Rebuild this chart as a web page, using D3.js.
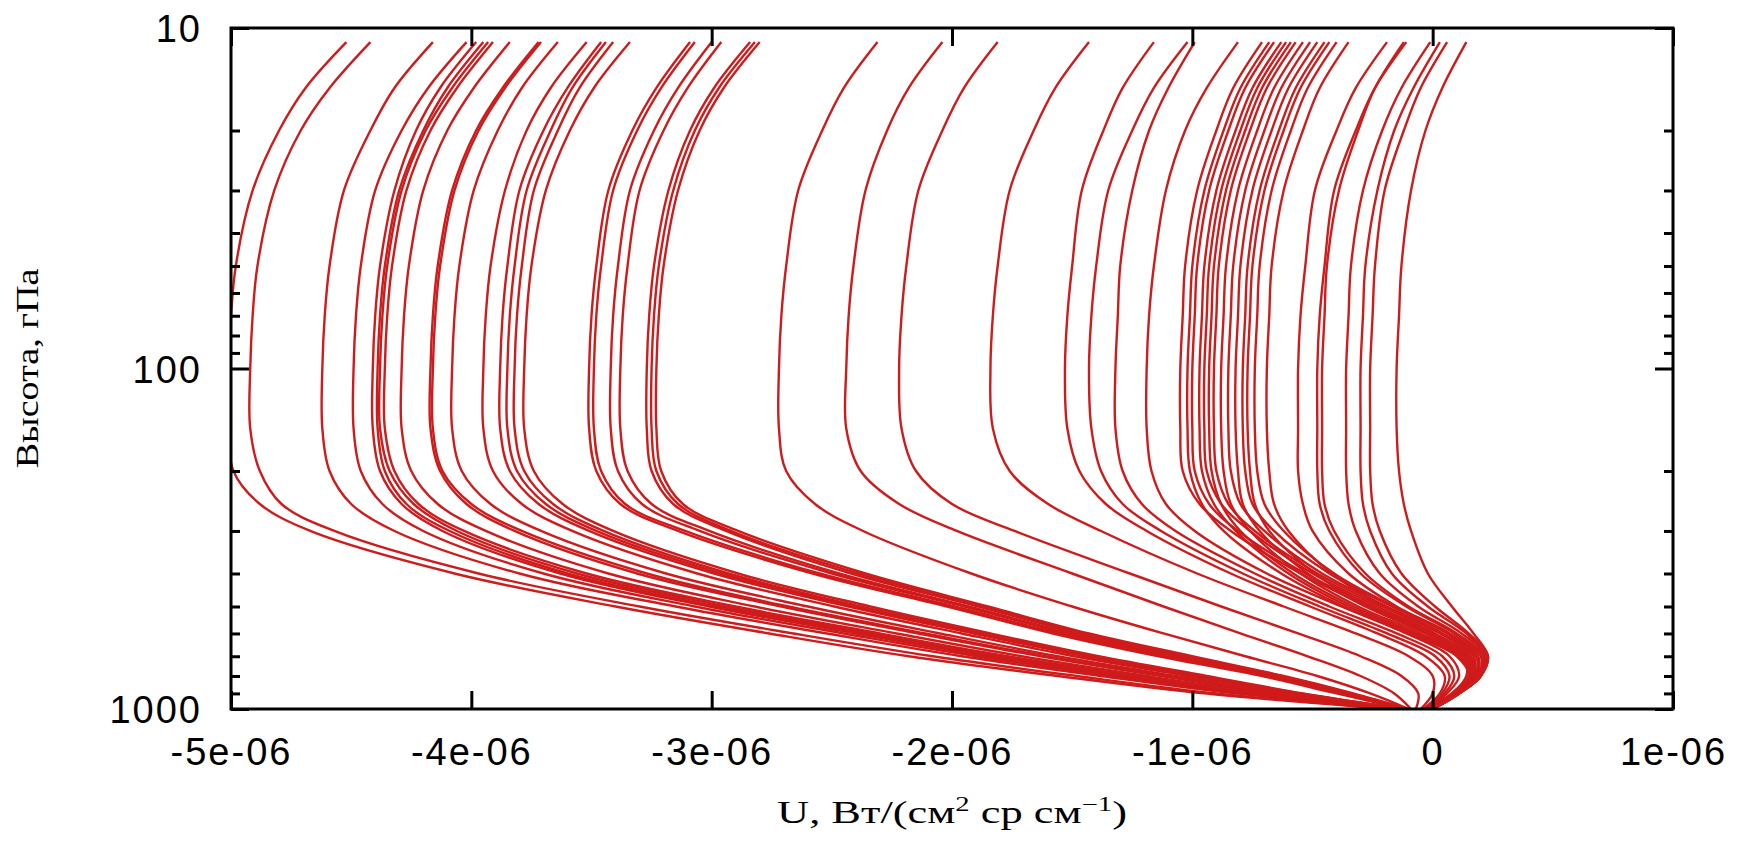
<!DOCTYPE html>
<html>
<head>
<meta charset="utf-8">
<script src="https://cdn.jsdelivr.net/npm/d3@7"></script>
<style>
  body { margin: 0; background: #fff; }
  svg { display: block; background: #fff; }
  .tick-label { font-family: "Liberation Sans", Arial, sans-serif; font-size: 38px; letter-spacing: 2px; fill: #000; }
  .axis-title { font-family: "Liberation Serif", "DejaVu Serif", serif; font-size: 31px; fill: #000; }
</style>
</head>
<body>
<div id="chart"></div>
<script>
// pressure levels, hPa
const pressureLevels = [11, 15, 20, 30, 50, 70, 100, 150, 200, 250, 300, 400, 500, 600, 700, 800, 900, 1000];

// U values in units of 1e-6 W/(cm2 sr cm-1), one row per profile
const leftBundle = [
  [-4.52, -4.69, -4.80, -4.91, -4.98, -5.00, -5.01, -5.01, -4.99, -4.88, -4.67, -4.07, -3.40, -2.76, -2.18, -1.56, -0.95, -0.17],
  [-4.42, -4.59, -4.71, -4.82, -4.89, -4.91, -4.92, -4.92, -4.88, -4.79, -4.57, -3.97, -3.30, -2.66, -2.08, -1.48, -0.90, -0.16],
  [-4.16, -4.32, -4.42, -4.53, -4.59, -4.61, -4.62, -4.62, -4.59, -4.50, -4.32, -3.80, -3.15, -2.52, -1.96, -1.38, -0.82, -0.15],
  [-4.02, -4.18, -4.29, -4.40, -4.46, -4.48, -4.49, -4.49, -4.46, -4.37, -4.20, -3.70, -3.07, -2.45, -1.90, -1.33, -0.78, -0.15],
  [-3.98, -4.13, -4.23, -4.32, -4.38, -4.40, -4.41, -4.41, -4.38, -4.29, -4.12, -3.63, -3.01, -2.40, -1.86, -1.30, -0.76, -0.14],
  [-3.95, -4.10, -4.20, -4.30, -4.36, -4.38, -4.39, -4.39, -4.36, -4.27, -4.09, -3.60, -2.98, -2.37, -1.83, -1.28, -0.75, -0.14],
  [-3.93, -4.08, -4.19, -4.29, -4.35, -4.37, -4.38, -4.38, -4.34, -4.24, -4.06, -3.56, -2.94, -2.34, -1.80, -1.26, -0.73, -0.14],
  [-3.91, -4.06, -4.17, -4.27, -4.33, -4.35, -4.36, -4.36, -4.32, -4.22, -4.03, -3.52, -2.90, -2.30, -1.77, -1.23, -0.72, -0.14],
  [-3.84, -3.99, -4.10, -4.20, -4.26, -4.28, -4.29, -4.29, -4.25, -4.14, -3.94, -3.43, -2.82, -2.23, -1.71, -1.19, -0.69, -0.14],
  [-3.72, -3.87, -3.98, -4.08, -4.14, -4.16, -4.17, -4.17, -4.13, -4.02, -3.82, -3.31, -2.71, -2.14, -1.63, -1.13, -0.65, -0.13],
  [-3.71, -3.86, -3.97, -4.07, -4.13, -4.15, -4.16, -4.16, -4.12, -4.00, -3.79, -3.27, -2.68, -2.11, -1.61, -1.11, -0.64, -0.13],
  [-3.64, -3.79, -3.89, -3.99, -4.05, -4.07, -4.08, -4.08, -4.04, -3.92, -3.71, -3.19, -2.60, -2.05, -1.56, -1.07, -0.62, -0.13],
  [-3.52, -3.67, -3.77, -3.86, -3.92, -3.94, -3.95, -3.95, -3.91, -3.79, -3.58, -3.06, -2.49, -1.96, -1.49, -1.02, -0.59, -0.12],
  [-3.46, -3.60, -3.70, -3.80, -3.85, -3.87, -3.88, -3.88, -3.84, -3.72, -3.51, -2.99, -2.43, -1.91, -1.45, -0.99, -0.57, -0.12],
  [-3.44, -3.58, -3.67, -3.77, -3.82, -3.84, -3.85, -3.85, -3.81, -3.69, -3.48, -2.96, -2.40, -1.89, -1.43, -0.97, -0.56, -0.12],
  [-3.41, -3.55, -3.64, -3.74, -3.79, -3.81, -3.82, -3.82, -3.78, -3.66, -3.45, -2.93, -2.38, -1.87, -1.41, -0.96, -0.55, -0.12],
  [-3.34, -3.49, -3.59, -3.69, -3.75, -3.77, -3.78, -3.78, -3.74, -3.62, -3.41, -2.89, -2.34, -1.84, -1.39, -0.94, -0.54, -0.12],
  [-3.09, -3.23, -3.33, -3.43, -3.48, -3.50, -3.51, -3.51, -3.48, -3.38, -3.14, -2.58, -2.02, -1.58, -1.14, -0.71, -0.40, -0.12],
  [-3.07, -3.21, -3.31, -3.41, -3.46, -3.48, -3.49, -3.49, -3.46, -3.36, -3.11, -2.55, -1.99, -1.55, -1.11, -0.69, -0.38, -0.12],
  [-3.00, -3.14, -3.24, -3.34, -3.39, -3.41, -3.42, -3.42, -3.39, -3.29, -3.05, -2.50, -1.95, -1.52, -1.08, -0.67, -0.37, -0.11],
  [-2.96, -3.10, -3.20, -3.30, -3.35, -3.37, -3.38, -3.38, -3.35, -3.25, -3.01, -2.47, -1.93, -1.50, -1.06, -0.66, -0.36, -0.11],
  [-2.84, -2.99, -3.09, -3.18, -3.24, -3.26, -3.27, -3.27, -3.25, -3.16, -2.94, -2.42, -1.89, -1.47, -1.04, -0.64, -0.35, -0.11],
  [-2.82, -2.97, -3.07, -3.16, -3.22, -3.24, -3.25, -3.25, -3.23, -3.14, -2.92, -2.39, -1.87, -1.45, -1.02, -0.63, -0.34, -0.11],
  [-2.80, -2.95, -3.05, -3.14, -3.20, -3.22, -3.23, -3.23, -3.21, -3.12, -2.89, -2.36, -1.85, -1.43, -1.00, -0.62, -0.33, -0.10],
  [-2.31, -2.45, -2.54, -2.64, -2.69, -2.71, -2.72, -2.72, -2.69, -2.57, -2.37, -1.92, -1.50, -1.12, -0.78, -0.48, -0.26, -0.10],
  [-2.04, -2.18, -2.27, -2.36, -2.41, -2.43, -2.44, -2.44, -2.38, -2.22, -1.98, -1.50, -1.12, -0.80, -0.52, -0.30, -0.16, -0.09],
  [-1.81, -1.95, -2.04, -2.14, -2.19, -2.21, -2.22, -2.21, -2.15, -2.00, -1.74, -1.26, -0.88, -0.56, -0.30, -0.13, -0.06, -0.07]
];

const rightBundle = [
  [-1.43, -1.57, -1.66, -1.76, -1.81, -1.83, -1.84, -1.83, -1.76, -1.60, -1.38, -0.98, -0.62, -0.32, -0.10, 0.00, 0.00, -0.05],
  [-1.16, -1.29, -1.37, -1.46, -1.50, -1.52, -1.53, -1.52, -1.47, -1.36, -1.19, -0.84, -0.51, -0.23, -0.03, 0.05, 0.03, -0.04],
  [-1.02, -1.16, -1.25, -1.35, -1.40, -1.42, -1.43, -1.42, -1.38, -1.29, -1.13, -0.79, -0.47, -0.19, 0.01, 0.07, 0.04, -0.03],
  [-0.99, -1.10, -1.18, -1.25, -1.30, -1.31, -1.32, -1.32, -1.29, -1.21, -1.07, -0.74, -0.43, -0.15, 0.04, 0.09, 0.05, -0.03],
  [-0.81, -0.94, -1.03, -1.11, -1.16, -1.18, -1.19, -1.19, -1.17, -1.11, -0.99, -0.69, -0.38, -0.11, 0.07, 0.11, 0.06, -0.02],
  [-0.71, -0.83, -0.90, -0.98, -1.03, -1.04, -1.05, -1.05, -1.04, -0.97, -0.84, -0.55, -0.27, -0.02, 0.13, 0.14, 0.08, -0.02],
  [-0.68, -0.80, -0.87, -0.95, -1.00, -1.01, -1.02, -1.02, -1.01, -0.96, -0.87, -0.63, -0.37, -0.10, 0.10, 0.15, 0.09, -0.02],
  [-0.66, -0.78, -0.85, -0.93, -0.98, -0.99, -1.00, -1.00, -0.99, -0.93, -0.81, -0.53, -0.25, 0.00, 0.14, 0.15, 0.08, -0.02],
  [-0.63, -0.75, -0.82, -0.90, -0.95, -0.96, -0.97, -0.97, -0.96, -0.91, -0.82, -0.60, -0.35, -0.08, 0.11, 0.16, 0.09, -0.02],
  [-0.61, -0.73, -0.80, -0.88, -0.93, -0.94, -0.95, -0.95, -0.94, -0.88, -0.76, -0.50, -0.23, 0.01, 0.15, 0.16, 0.09, -0.01],
  [-0.59, -0.71, -0.78, -0.86, -0.91, -0.92, -0.93, -0.93, -0.92, -0.88, -0.80, -0.58, -0.33, -0.07, 0.12, 0.16, 0.09, -0.01],
  [-0.57, -0.69, -0.76, -0.84, -0.89, -0.90, -0.91, -0.91, -0.90, -0.85, -0.74, -0.48, -0.21, 0.03, 0.16, 0.17, 0.09, -0.01],
  [-0.54, -0.66, -0.73, -0.81, -0.86, -0.87, -0.88, -0.88, -0.87, -0.84, -0.76, -0.55, -0.31, -0.05, 0.13, 0.17, 0.10, -0.01],
  [-0.51, -0.63, -0.70, -0.78, -0.83, -0.84, -0.85, -0.85, -0.84, -0.80, -0.70, -0.46, -0.19, 0.04, 0.17, 0.17, 0.10, -0.01],
  [-0.48, -0.60, -0.67, -0.75, -0.80, -0.81, -0.82, -0.82, -0.81, -0.79, -0.72, -0.52, -0.28, -0.03, 0.14, 0.18, 0.10, -0.01],
  [-0.45, -0.57, -0.64, -0.72, -0.77, -0.78, -0.79, -0.79, -0.78, -0.75, -0.66, -0.43, -0.17, 0.06, 0.18, 0.18, 0.10, -0.01],
  [-0.43, -0.55, -0.62, -0.70, -0.75, -0.76, -0.77, -0.77, -0.76, -0.74, -0.68, -0.49, -0.26, -0.01, 0.15, 0.18, 0.10, -0.01],
  [-0.40, -0.52, -0.59, -0.67, -0.72, -0.73, -0.74, -0.74, -0.73, -0.70, -0.62, -0.41, -0.16, 0.07, 0.19, 0.18, 0.10, -0.01],
  [-0.35, -0.47, -0.54, -0.62, -0.67, -0.68, -0.69, -0.69, -0.68, -0.66, -0.60, -0.42, -0.20, 0.04, 0.18, 0.19, 0.10, 0.00],
  [-0.19, -0.32, -0.40, -0.49, -0.53, -0.55, -0.56, -0.56, -0.56, -0.54, -0.50, -0.35, -0.15, 0.07, 0.20, 0.19, 0.11, 0.00],
  [-0.11, -0.24, -0.32, -0.41, -0.45, -0.47, -0.48, -0.48, -0.48, -0.47, -0.43, -0.30, -0.11, 0.09, 0.21, 0.19, 0.11, 0.00],
  [-0.12, -0.24, -0.31, -0.39, -0.44, -0.45, -0.46, -0.46, -0.46, -0.45, -0.41, -0.28, -0.10, 0.10, 0.21, 0.20, 0.11, 0.00],
  [-0.01, -0.13, -0.21, -0.29, -0.34, -0.35, -0.36, -0.36, -0.36, -0.35, -0.32, -0.22, -0.06, 0.12, 0.22, 0.20, 0.11, 0.00],
  [0.03, -0.08, -0.16, -0.23, -0.28, -0.29, -0.30, -0.30, -0.30, -0.29, -0.26, -0.17, -0.02, 0.14, 0.22, 0.20, 0.11, 0.00],
  [0.06, -0.05, -0.12, -0.20, -0.24, -0.25, -0.26, -0.26, -0.26, -0.25, -0.22, -0.13, 0.01, 0.15, 0.23, 0.20, 0.11, -0.01],
  [0.14, 0.04, -0.03, -0.09, -0.13, -0.14, -0.15, -0.15, -0.14, -0.12, -0.09, -0.02, 0.08, 0.17, 0.23, 0.20, 0.11, -0.01]
];
const unit = 1e-6;

const xTicks = [-5e-6, -4e-6, -3e-6, -2e-6, -1e-6, 0, 1e-6];
const xTickLabels = ["-5e-06", "-4e-06", "-3e-06", "-2e-06", "-1e-06", "0", "1e-06"];
const yTicks = [10, 100, 1000];
const yTickLabels = ["10", "100", "1000"];
const yMinorTicks = [20, 30, 40, 50, 60, 70, 80, 90, 200, 300, 400, 500, 600, 700, 800, 900];

const width = 1752, height = 842;
const margin = {top: 28, right: 79, bottom: 133, left: 231};
const lineColor = "#cf1b1b";

const svg = d3.select("#chart").append("svg")
  .attr("width", width)
  .attr("height", height);

const x = d3.scaleLinear().domain([-5e-6, 1e-6]).range([margin.left, width - margin.right]);
const y = d3.scaleLog().domain([10, 1000]).range([margin.top, height - margin.bottom]);

// profiles
const profiles = leftBundle.concat(rightBundle)
  .map(row => row.map((u, i) => ({p: pressureLevels[i], u: u * unit})));

svg.append("clipPath").attr("id", "plot-clip")
  .append("rect")
  .attr("x", x.range()[0]).attr("y", y.range()[0])
  .attr("width", x.range()[1] - x.range()[0])
  .attr("height", y.range()[1] - y.range()[0]);

const line = d3.line()
  .x(d => x(d.u))
  .y(d => y(d.p))
  .curve(d3.curveCatmullRom.alpha(0.5));

svg.append("g")
  .attr("clip-path", "url(#plot-clip)")
  .selectAll("path")
  .data(profiles)
  .join("path")
  .attr("d", line)
  .attr("fill", "none")
  .attr("stroke", lineColor)
  .attr("stroke-width", 2.4);

// axes
function styleAxis(g) {
  g.select(".domain").remove();
  g.selectAll(".tick line").attr("stroke", "#000").attr("stroke-width", 3);
}

svg.append("g")
  .attr("transform", `translate(0,${y.range()[1]})`)
  .call(d3.axisBottom(x).tickValues(xTicks).tickSize(-18).tickFormat((d, i) => xTickLabels[i]))
  .call(styleAxis)
  .call(g => g.selectAll("text").attr("class", "tick-label").attr("y", 56).attr("dy", 0));

svg.append("g")
  .attr("transform", `translate(0,${y.range()[0]})`)
  .call(d3.axisTop(x).tickValues(xTicks).tickSize(-18).tickFormat(""))
  .call(styleAxis);

svg.append("g")
  .attr("transform", `translate(${x.range()[0]},0)`)
  .call(d3.axisLeft(y).tickValues(yTicks).tickSize(-18).tickFormat((d, i) => yTickLabels[i]))
  .call(styleAxis)
  .call(g => g.selectAll("text").attr("class", "tick-label").attr("x", -29).attr("dy", "0.36em"));

svg.append("g")
  .attr("transform", `translate(${x.range()[0]},0)`)
  .call(d3.axisLeft(y).tickValues(yMinorTicks).tickSize(-9).tickFormat(""))
  .call(styleAxis);

svg.append("g")
  .attr("transform", `translate(${x.range()[1]},0)`)
  .call(d3.axisRight(y).tickValues(yTicks).tickSize(-18).tickFormat(""))
  .call(styleAxis);

svg.append("g")
  .attr("transform", `translate(${x.range()[1]},0)`)
  .call(d3.axisRight(y).tickValues(yMinorTicks).tickSize(-9).tickFormat(""))
  .call(styleAxis);

svg.append("rect")
  .attr("x", x.range()[0]).attr("y", y.range()[0])
  .attr("width", x.range()[1] - x.range()[0])
  .attr("height", y.range()[1] - y.range()[0])
  .attr("fill", "none")
  .attr("stroke", "#000")
  .attr("stroke-width", 3);

// axis titles
const xTitle = svg.append("text").attr("class", "axis-title").attr("text-anchor", "middle");
xTitle.append("tspan").text("U, Вт/(см");
xTitle.append("tspan").attr("dy", -12).attr("font-size", "20px").text("2");
xTitle.append("tspan").attr("dy", 12).text(" ср см");
xTitle.append("tspan").attr("dy", -12).attr("font-size", "20px").text("−1");
xTitle.append("tspan").attr("dy", 12).text(")");
const xTitleW = xTitle.node().getBBox().width;
xTitle.attr("transform", `translate(${(x.range()[0] + x.range()[1]) / 2},823) scale(${350 / xTitleW},1)`);

const yTitle = svg.append("text").attr("class", "axis-title").attr("text-anchor", "middle").text("Высота, гПа");
const yTitleW = yTitle.node().getBBox().width;
yTitle.attr("transform", `translate(38,${(y.range()[0] + y.range()[1]) / 2}) rotate(-90) scale(${200 / yTitleW},1)`);
</script>
</body>
</html>
